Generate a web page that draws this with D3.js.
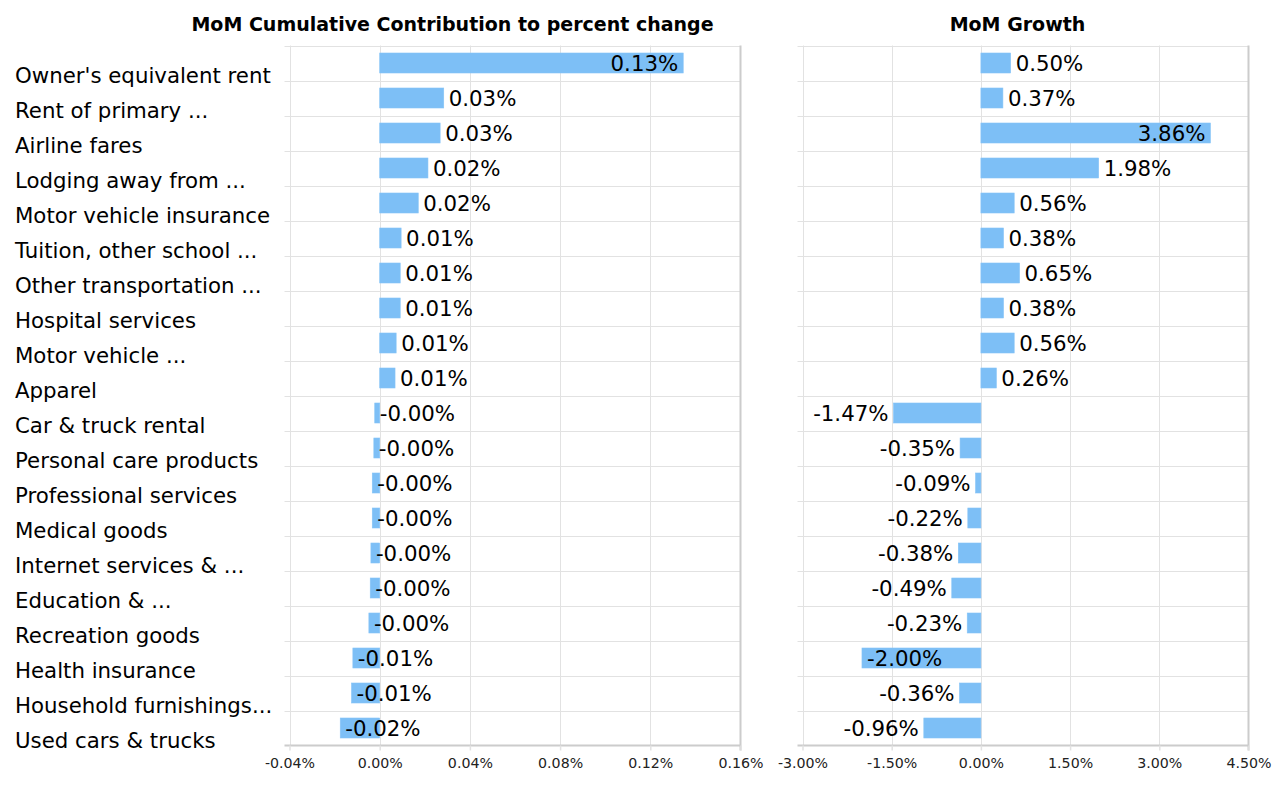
<!DOCTYPE html>
<html>
<head>
<meta charset="utf-8">
<script src="https://cdn.jsdelivr.net/npm/d3@7"></script>
<style>
  html, body { margin: 0; padding: 0; background: #fff; }
  svg { display: block; font-family: "DejaVu Sans", Verdana, sans-serif; }
</style>
</head>
<body>
<svg id="chart" width="1280" height="800"></svg>
<script>
const categories = [
  "Owner's equivalent rent", "Rent of primary ...", "Airline fares", "Lodging away from ...",
  "Motor vehicle insurance", "Tuition, other school ...", "Other transportation ...",
  "Hospital services", "Motor vehicle ...", "Apparel", "Car & truck rental",
  "Personal care products", "Professional services", "Medical goods",
  "Internet services & ...", "Education & ...", "Recreation goods",
  "Health insurance", "Household furnishings...", "Used cars & trucks"
];
const contribution = [
  0.1346, 0.0284, 0.0268, 0.0214, 0.0171, 0.0095, 0.0091, 0.0091, 0.0073, 0.0068,
  -0.0022, -0.0026, -0.0033, -0.0033, -0.0039, -0.0042, -0.0048, -0.0119, -0.0125, -0.0175
];
const growth = [
  0.50, 0.37, 3.86, 1.98, 0.56, 0.38, 0.65, 0.38, 0.56, 0.26,
  -1.47, -0.35, -0.09, -0.22, -0.38, -0.49, -0.23, -2.00, -0.36, -0.96
];
const contribTicks = [-0.04, 0, 0.04, 0.08, 0.12, 0.16];
const growthTicks = [-3, -1.5, 0, 1.5, 3, 4.5];
const titles = ["MoM Cumulative Contribution to percent change", "MoM Growth"];

const svg = d3.select("#chart");
const plotTop = 45.5, plotBottom = 745.5;
const y = d3.scaleBand().domain(categories).range([plotTop, plotBottom]).padding(0);
const barH = 20;

const panels = [
  { title: titles[0], values: contribution, ticks: contribTicks, x0: 289.5, x1: 740.5, titleX: 452.5,
    negInside: true },
  { title: titles[1], values: growth, ticks: growthTicks, x0: 802.5, x1: 1248.5, titleX: 1017.5,
    negInside: false }
];

const gridColor = "#e2e2e2";
const axisColor = "#cccccc";
const barColor = "#7dbff6";
const labelFont = 21.3;

// category labels
svg.append("g").selectAll("text").data(categories).join("text")
  .attr("x", 15)
  .attr("y", d => y(d) + y.bandwidth() / 2 + 20)
  .attr("font-size", labelFont)
  .attr("fill", "#000")
  .text(d => d);

panels.forEach(p => {
  const x = d3.scaleLinear().domain([p.ticks[0], p.ticks[p.ticks.length - 1]]).range([p.x0, p.x1]);
  const g = svg.append("g");

  // title
  g.append("text")
    .attr("x", p.titleX).attr("y", 31)
    .attr("text-anchor", "middle")
    .attr("font-weight", "bold")
    .attr("font-size", 19)
    .text(p.title);

  // horizontal row lines (with ticks on the left)
  const rowEdges = categories.map(c => y(c));
  g.append("g").selectAll("line").data(rowEdges).join("line")
    .attr("x1", p.x0 - 5).attr("x2", p.x1)
    .attr("y1", d => Math.round(d) + 0.5).attr("y2", d => Math.round(d) + 0.5)
    .attr("stroke", gridColor).attr("stroke-width", 1);

  // vertical grid
  g.append("g").selectAll("line").data(p.ticks.slice(0, -1)).join("line")
    .attr("x1", d => Math.round(x(d)) + 0.5).attr("x2", d => Math.round(x(d)) + 0.5)
    .attr("y1", plotTop).attr("y2", plotBottom)
    .attr("stroke", gridColor).attr("stroke-width", 1);

  // right border
  g.append("line")
    .attr("x1", p.x1).attr("x2", p.x1).attr("y1", plotTop).attr("y2", plotBottom + 5)
    .attr("stroke", axisColor).attr("stroke-width", 2);

  // bottom axis
  const axis = d3.axisBottom(x).tickValues(p.ticks)
    .tickFormat(d => d.toFixed(2) + "%").tickSizeInner(5).tickSizeOuter(0).tickPadding(7);
  const ax = g.append("g").attr("transform", `translate(0,${plotBottom})`).call(axis);
  ax.select(".domain").attr("stroke", axisColor).attr("stroke-width", 2)
    .attr("d", `M${p.x0 - 5},0H${p.x1}`);
  ax.selectAll(".tick line").attr("stroke", gridColor).attr("stroke-width", 1.5);
  ax.selectAll(".tick text").attr("font-size", 14.2).attr("fill", "#222")
    .attr("font-family", "'DejaVu Sans', Verdana, sans-serif");

  // bars
  const data = categories.map((c, i) => ({ c, v: p.values[i] }));
  g.append("g").selectAll("rect").data(data).join("rect")
    .attr("x", d => x(Math.min(0, d.v)))
    .attr("width", d => Math.abs(x(d.v) - x(0)))
    .attr("y", d => y(d.c) + (y.bandwidth() - barH) / 2)
    .attr("height", barH)
    .attr("fill", barColor)
    .attr("stroke", "#86c4f7").attr("stroke-width", 0.6);

  // value labels
  const lbl = g.append("g").selectAll("text").data(data).join("text")
    .attr("font-size", labelFont)
    .attr("fill", "#000")
    .attr("y", d => y(d.c) + y.bandwidth() / 2 + 8)
    .text(d => d.v.toFixed(2) + "%");

  lbl.each(function(d) {
    const t = d3.select(this);
    const w = this.getComputedTextLength();
    const pad = 5;
    if (d.v >= 0) {
      const end = x(d.v);
      if (end + pad + w <= p.x1) t.attr("x", end + pad).attr("text-anchor", "start");
      else t.attr("x", end - pad).attr("text-anchor", "end");
    } else {
      const start = x(d.v);
      if (!p.negInside && start - pad - w >= p.x0) t.attr("x", start - pad).attr("text-anchor", "end");
      else t.attr("x", start + pad).attr("text-anchor", "start");
    }
  });
});
</script>
</body>
</html>
